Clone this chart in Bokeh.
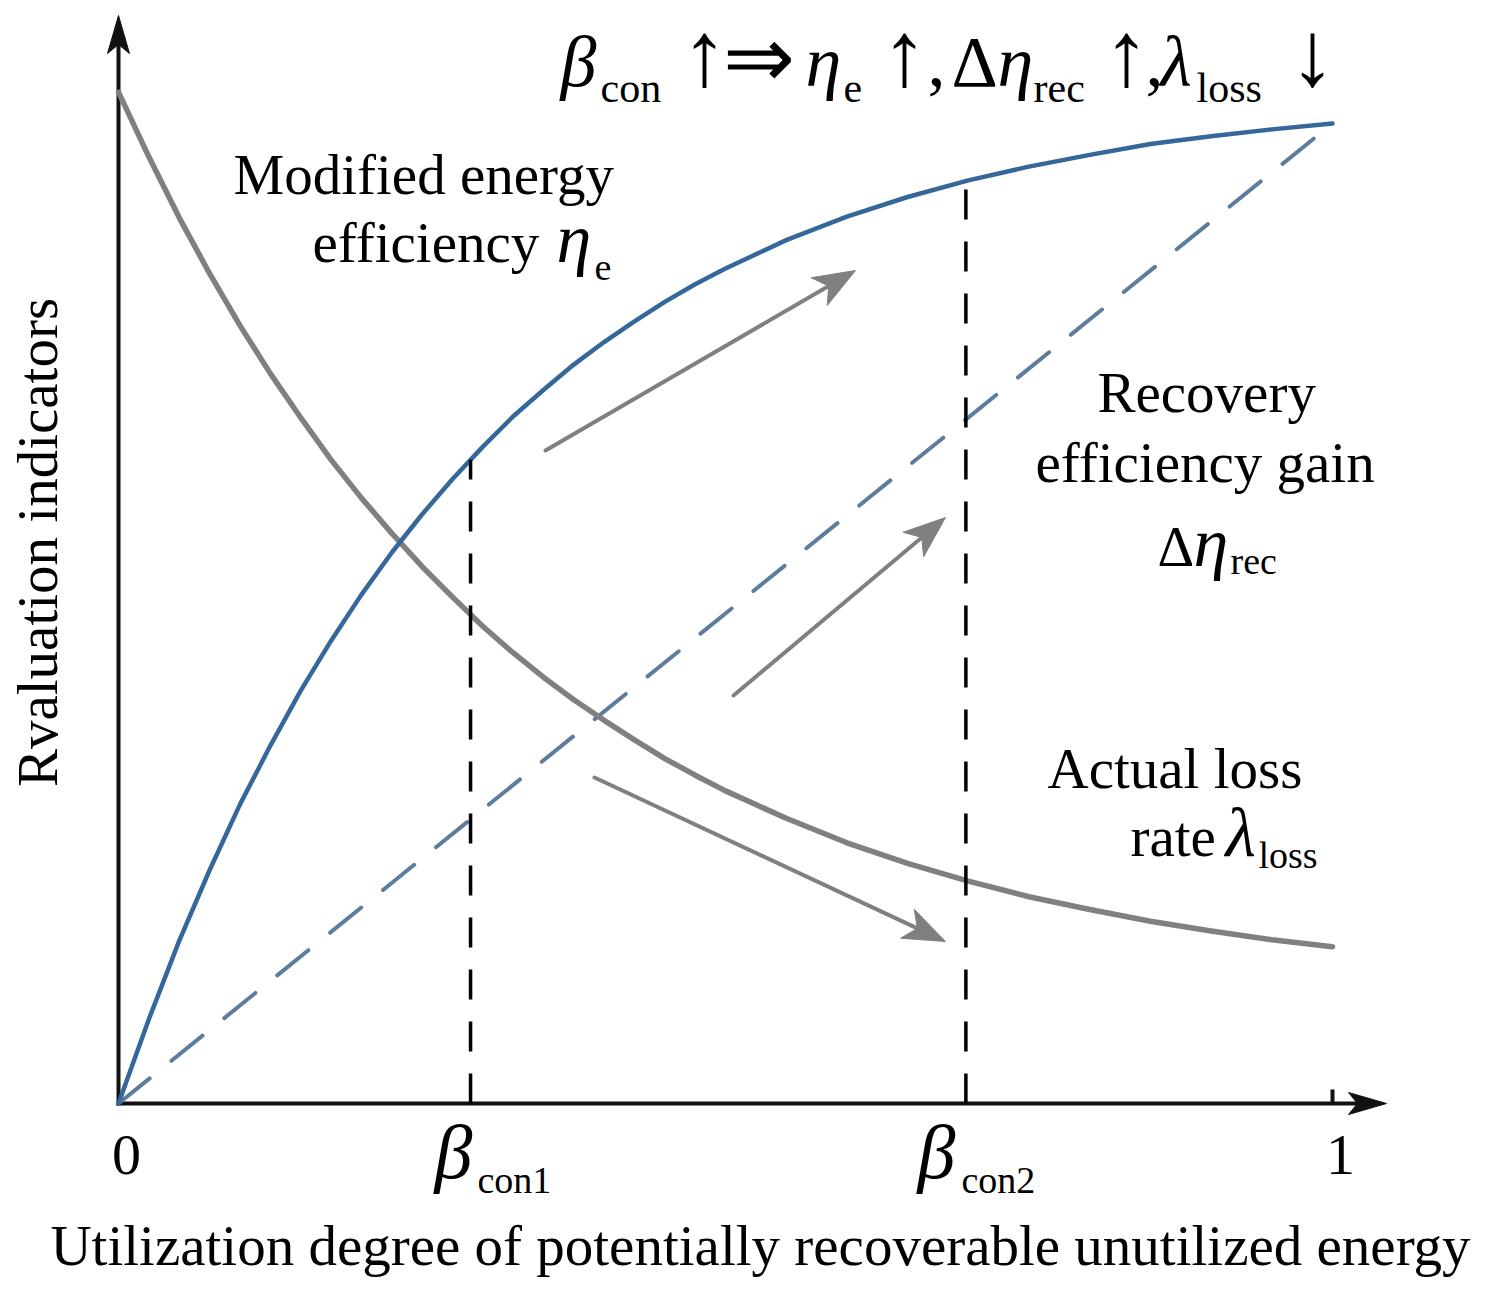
import numpy as np
from bokeh.plotting import figure
from bokeh.models import Range1d
from bokeh.core.properties import value
from bokeh.embed import file_html
from bokeh.resources import INLINE

# --- data -------------------------------------------------------------------
# utilization degree beta at which the two curves are sampled
beta = [0.0, 0.025, 0.05, 0.075, 0.1, 0.125, 0.15, 0.175, 0.2, 0.225, 0.25,
        0.275, 0.3, 0.325, 0.35, 0.375, 0.4, 0.425, 0.45, 0.475, 0.5,
        0.55, 0.6, 0.65, 0.7, 0.75, 0.8, 0.85, 0.9, 0.95, 1.0]

# modified energy efficiency eta_e
eta_e = [0.0, 0.086, 0.166, 0.238, 0.305, 0.365, 0.421, 0.472, 0.519, 0.562, 0.601,
         0.637, 0.670, 0.701, 0.728, 0.754, 0.777, 0.798, 0.818, 0.836, 0.852,
         0.881, 0.905, 0.925, 0.942, 0.956, 0.968, 0.979, 0.987, 0.994, 1.0]

# actual loss rate lambda_loss
lambda_loss = [1.032, 0.966, 0.904, 0.847, 0.794, 0.745, 0.700, 0.657, 0.618, 0.582, 0.548,
               0.517, 0.487, 0.460, 0.435, 0.412, 0.391, 0.371, 0.352, 0.335, 0.319,
               0.291, 0.266, 0.245, 0.227, 0.211, 0.198, 0.186, 0.176, 0.167, 0.160]

# recovery efficiency gain (linear)
beta_rec = [0.0, 1.0]
delta_eta_rec = [0.0, 1.0]

# threshold utilization degrees beta_con1, beta_con2
beta_con = [0.290, 0.698]

# x tick labels
tick_values = [0.0, 1.0]
tick_labels = ["0", "1"]

# --- canvas geometry (pixels) -------------------------------------------------
W, H = 1491, 1294
X0, Y0 = 118, 1103      # pixel position of the origin
SX, SY = 1214, 980      # pixels per unit on each axis


def dx(px):
    return (px - X0) / SX


def dy(py):
    return (Y0 - py) / SY


p = figure(width=W, height=H, output_backend="svg", toolbar_location=None,
           x_range=Range1d(dx(0), dx(W)), y_range=Range1d(dy(H), dy(0)),
           min_border=0, x_axis_location=None, y_axis_location=None)
p.outline_line_color = None
p.grid.visible = False
p.background_fill_color = "white"
p.border_fill_color = "white"

BLUE = "#35679a"
SLATE = "#5e7d9d"
GRAY = "#808080"
SERIF = value("Liberation Serif")


def head(tip_px, tail_px, length, half, notch, color):
    """Notched triangular arrow head; returns the notch point (pixels)."""
    tx, ty = tip_px
    ux, uy = tx - tail_px[0], ty - tail_px[1]
    n = np.hypot(ux, uy)
    ux, uy = ux / n, uy / n
    nx, ny = -uy, ux
    bx, by = tx - length * ux, ty - length * uy
    mx, my = tx - (length - notch) * ux, ty - (length - notch) * uy
    xs = [tx, bx + half * nx, mx, bx - half * nx]
    ys = [ty, by + half * ny, my, by - half * ny]
    p.patch([dx(v) for v in xs], [dy(v) for v in ys], fill_color=color,
            line_color=color, line_width=1)
    return mx, my


# --- axes ---------------------------------------------------------------------
AX = "#111111"
xm = head((1386, Y0), (X0, Y0), 38, 11, 9, AX)
p.line([dx(X0 - 2), dx(xm[0])], [0, 0], line_color=AX, line_width=4)
ym = head((X0, 15), (X0, Y0), 38, 11, 9, AX)
p.line([0, 0], [dy(Y0 + 2), dy(ym[1])], line_color=AX, line_width=4)
# tick at x = 1
p.segment(x0=[tick_values[1]], y0=[0], x1=[tick_values[1]], y1=[dy(Y0 - 14)],
          line_color=AX, line_width=4)

# --- curves -------------------------------------------------------------------
p.line(beta_rec, delta_eta_rec, line_color=SLATE, line_width=4,
       line_dash="40 28", line_cap="round")
p.line(beta, lambda_loss, line_color=GRAY, line_width=5.5,
       line_join="round", line_cap="round")
p.line(beta, eta_e, line_color=BLUE, line_width=4.5,
       line_join="round", line_cap="round")

# threshold markers
con_top = list(np.interp(beta_con, beta, eta_e))
p.segment(x0=beta_con, y0=[0, 0], x1=beta_con, y1=con_top,
          line_color="black", line_width=3.5, line_dash="30 22")

# --- trend arrows -------------------------------------------------------------
trend_arrows = [((545, 450), (855, 270)),
                ((733, 695), (945, 517)),
                ((594, 777), (945, 941))]
for (sx, sy), tip in trend_arrows:
    mx, my = head(tip, (sx, sy), 42, 16, 11, GRAY)
    p.line([dx(sx), dx(mx)], [dy(sy), dy(my)], line_color=GRAY, line_width=4,
           line_cap="round")


# --- text ---------------------------------------------------------------------
MID = 0.345   # height of the em-box centre above the baseline, in em


def label(x, y, s, size, style="normal", align="left"):
    """Place text so that its baseline sits on pixel row y."""
    p.text(x=[dx(x)], y=[dy(y - MID * size)], text=[s], text_font=SERIF,
           text_font_size=f"{size}px", text_font_style=style,
           text_align=align, text_baseline="middle", text_color="black")


BODY = 57
SUB = 38

# modified energy efficiency
label(233, 194, "Modified energy", BODY)
label(312, 262, "efficiency", BODY)
label(556, 262, "\u03b7", 70, style="italic")
label(594, 280, "e", SUB)

# recovery efficiency gain
label(1097, 412, "Recovery", BODY)
label(1035, 482, "efficiency gain", BODY)
label(1157, 566, "\u0394", BODY)
label(1193, 566, "\u03b7", 70, style="italic")
label(1230, 574, "rec", SUB)

# actual loss rate
label(1047, 788, "Actual loss", BODY)
label(1130, 856, "rate", BODY)
label(1225, 856, "\u03bb", 70, style="italic")
label(1258, 868, "loss", SUB)

# headline relation
MAIN = 72
HSUB = 42
ARR = 92
label(560, 86, "\u03b2", MAIN, style="italic")
label(600, 102, "con", HSUB)
label(704, 85, "\u2191", ARR, align="center")
label(758, 87, "\u21d2", 86, align="center")
label(805, 86, "\u03b7", MAIN, style="italic")
label(843, 102, "e", HSUB)
label(904, 85, "\u2191", ARR, align="center")
label(927, 86, ",", MAIN)
label(951, 86, "\u0394", MAIN)
label(997, 86, "\u03b7", MAIN, style="italic")
label(1033, 102, "rec", HSUB)
label(1126, 85, "\u2191", ARR, align="center")
label(1145, 86, ",", MAIN)
label(1160, 86, "\u03bb", MAIN, style="italic")
label(1196, 102, "loss", HSUB)
label(1312, 85, "\u2193", ARR, align="center")

# x tick labels
for v, t in zip(tick_values, tick_labels):
    label(X0 + v * SX + 8, 1175, t, 58, align="center")
label(434, 1178, "\u03b2", 76, style="italic")
label(477, 1193, "con1", SUB)
label(917, 1178, "\u03b2", 76, style="italic")
label(961, 1193, "con2", SUB)

# axis titles
label(760, 1265, "Utilization degree of potentially recoverable unutilized energy",
      BODY, align="center")
p.text(x=[dx(37)], y=[dy(542)], text=["Rvaluation indicators"], text_font=SERIF,
       text_font_size=f"{BODY}px", text_align="center", text_baseline="middle",
       angle=np.pi / 2, text_color="black")

open("out.html", "w").write(file_html(p, INLINE))
